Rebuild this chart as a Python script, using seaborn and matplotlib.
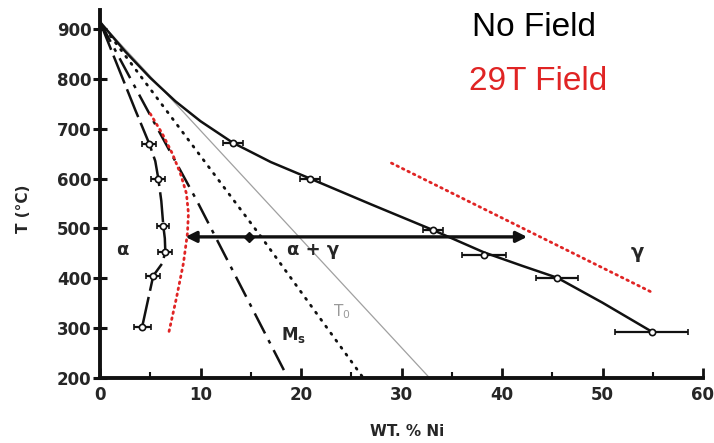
import numpy as np
import pandas as pd
import matplotlib
matplotlib.use("Agg")
import matplotlib.pyplot as plt
import seaborn as sns

# ---------------- data ----------------
apex_t = 914

# alpha / (alpha+gamma) boundary, measured points with x error bars
alpha_pts_x = [4.9, 5.8, 6.3, 6.5, 5.3, 4.2]
alpha_pts_t = [670, 600, 505, 453, 405, 303]
alpha_err = [0.7, 0.7, 0.6, 0.7, 0.7, 0.85]
alpha_curve_x = [0, 3.5, 4.9, 5.5, 5.8, 6.1, 6.3, 6.45, 6.5, 6.2, 5.3, 4.2]
alpha_curve_t = [914, 738, 670, 635, 600, 555, 505, 480, 453, 430, 405, 303]

# gamma / (alpha+gamma) boundary
gamma_pts_x = [13.2, 20.9, 33.1, 38.2, 45.5, 54.9]
gamma_pts_t = [672, 600, 497, 447, 401, 293]
gamma_err = [1.0, 1.0, 1.0, 2.2, 2.1, 3.65]
gamma_curve_x = [0, 2.5, 5.0, 7.5, 10.0, 13.2, 17.0, 20.9, 27.0, 33.1, 38.2,
                 42.0, 45.5, 50.0, 54.9]
gamma_curve_t = [914, 855, 802, 755, 715, 672, 633, 600, 548, 497, 452,
                 425, 401, 351, 293]

# Ms line (dash-dot)
ms_x = [0, 4.7, 9.6, 14.7, 18.7]
ms_t = [914, 738, 557, 357, 200]

# T0 dotted line
t0_x = [0, 16.0, 26.2]
t0_t = [914, 484, 200]

# thin grey line
grey_x = [0, 32.8]
grey_t = [914, 200]

# 29T field boundaries (red dotted)
red_left_x = [5.0, 6.2, 7.2, 8.0, 8.6, 8.8, 8.7, 8.3, 7.6, 6.8]
red_left_t = [730, 690, 650, 610, 570, 530, 490, 430, 360, 287]
red_right_x = [29.0, 55.0]
red_right_t = [631, 371]

# tie arrow
arrow_x = [8.5, 42.5]
arrow_t = 483
arrow_dot_x = 14.8

x_ticks = [0, 10, 20, 30, 40, 50, 60]
y_ticks = [200, 300, 400, 500, 600, 700, 800, 900]

# ---------------- figure ----------------
sns.set_theme(style="ticks")
plt.rcParams['font.family'] = ['DejaVu Sans']

fig = plt.figure(figsize=(7.14, 4.43), dpi=100)
ax = fig.add_axes([100 / 714, 65 / 443, 603 / 714, 368 / 443])

black = "#111111"
red = "#e02424"

def df(x, t):
    return pd.DataFrame({"x": x, "t": t})

# grey straight line
sns.lineplot(data=df(grey_x, grey_t), x="x", y="t", sort=False, estimator=None,
             color="#a0a0a0", lw=0.9, ax=ax)
# dotted T0
sns.lineplot(data=df(t0_x, t0_t), x="x", y="t", sort=False, estimator=None,
             color=black, lw=2.0, ax=ax, linestyle=(0, (0.5, 2.6)),
             dash_capstyle="round")
# Ms dash-dot
sns.lineplot(data=df(ms_x, ms_t), x="x", y="t", sort=False, estimator=None,
             color=black, lw=1.8, ax=ax, linestyle=(0, (9, 3, 1.5, 3)))
# alpha boundary (long dashes)
sns.lineplot(data=df(alpha_curve_x, alpha_curve_t), x="x", y="t", sort=False,
             estimator=None, color=black, lw=1.8, ax=ax, linestyle=(0, (12, 2.5)))
# gamma boundary
sns.lineplot(data=df(gamma_curve_x, gamma_curve_t), x="x", y="t", sort=False,
             estimator=None, color=black, lw=1.8, ax=ax)

# red 29T field lines
sns.lineplot(data=df(red_left_x, red_left_t), x="x", y="t", sort=False,
             estimator=None, color=red, lw=2.0, ax=ax, linestyle=(0, (0.6, 1.6)),
             dash_capstyle="round")
sns.lineplot(data=df(red_right_x, red_right_t), x="x", y="t", sort=False,
             estimator=None, color=red, lw=2.0, ax=ax, linestyle=(0, (0.6, 1.6)),
             dash_capstyle="round")

# data points with error bars
for px, pt, pe in ((alpha_pts_x, alpha_pts_t, alpha_err),
                   (gamma_pts_x, gamma_pts_t, gamma_err)):
    ax.errorbar(px, pt, xerr=pe, fmt="o", color=black, ecolor=black,
                elinewidth=1.6, capsize=2.5, capthick=1.6, ms=4.5,
                mfc="white", mec=black, mew=1.2, zorder=5)

# arrow
ax.annotate("", xy=(arrow_x[0], arrow_t), xytext=(arrow_x[1], arrow_t),
            arrowprops=dict(arrowstyle="<|-|>", color=black, lw=2.4,
                            mutation_scale=16, shrinkA=0, shrinkB=0), zorder=6)
ax.plot([arrow_dot_x], [arrow_t], marker="D", ms=5.5, color=black, zorder=7)

# region labels
ax.text(2.2, 457, "α", fontsize=13, fontweight="bold", ha="center", va="center")
ax.text(21.2, 457, "α + γ", fontsize=13, fontweight="bold", ha="center", va="center")
ax.text(53.5, 451, "γ", fontsize=14, fontweight="bold", ha="center", va="center")
ax.text(19.3, 287, r"$\mathbf{M_s}$", fontsize=12, ha="center", va="center")
ax.text(24.1, 333, r"T$_0$", fontsize=11, color="#999999", ha="center", va="center")

# axes styling
ax.set_xlim(0, 60)
ax.set_ylim(200, 938)
ax.set_xticks(x_ticks)
ax.set_yticks(y_ticks)
ax.set_xticks([5, 15, 25, 35, 45, 55], minor=True)
ax.set_xticklabels([str(v) for v in x_ticks], fontweight="bold", fontsize=12)
ax.set_yticklabels([str(v) for v in y_ticks], fontweight="bold", fontsize=12)
ax.tick_params(axis="y", which="major", direction="inout", length=10, width=2.2,
               color=black, pad=1)
ax.tick_params(axis="x", which="major", direction="in", length=7, width=2.0,
               color=black, pad=6)
ax.tick_params(axis="x", which="minor", direction="in", length=4, width=1.5,
               color=black)
for s in ("top", "right"):
    ax.spines[s].set_visible(False)
for s in ("left", "bottom"):
    ax.spines[s].set_linewidth(2.8)
    ax.spines[s].set_color(black)

ax.set_xlabel("WT. % Ni", fontweight="bold", fontsize=11, va="center")
ax.set_ylabel("T (°C)", fontweight="bold", fontsize=11, va="center")
ax.xaxis.set_label_coords(307 / 603, -(432 - 378) / 368)
ax.yaxis.set_label_coords(-77 / 603, (378 - 209) / 368)
ax.grid(False)
ax.set_facecolor("white")
fig.patch.set_facecolor("white")

# header texts
fig.text(472 / 714, 1 - 28 / 443, "No Field", fontsize=24, color="black",
         family=["Liberation Sans", "DejaVu Sans"], ha="left", va="center")
fig.text(469 / 714, 1 - 82 / 443, "29T Field", fontsize=24, color=red,
         family=["Liberation Sans", "DejaVu Sans"], ha="left", va="center")

fig.savefig("out.png", dpi=100)
